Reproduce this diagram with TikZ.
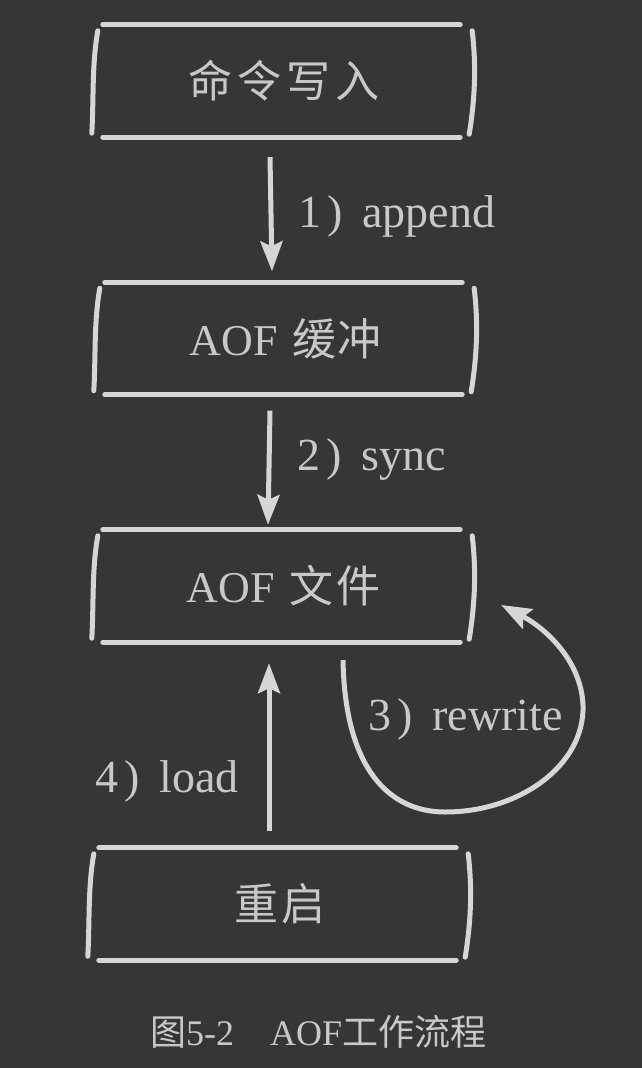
\documentclass[tikz,border=0pt]{standalone}
\usepackage{fontspec}
\setmainfont{Liberation Serif}
\newfontfamily\cjk{Noto Sans CJK SC}
\usetikzlibrary{arrows.meta,calc}
\definecolor{bg}{RGB}{54,54,54}
\definecolor{ink}{RGB}{214,214,214}
\definecolor{txt}{RGB}{200,200,200}
\newcommand\skbox[1]{%
  \draw[skline] ([xshift=8pt]#1.north west) -- ([xshift=-13pt]#1.north east);
  \draw[skline] ([xshift=8pt]#1.south west) -- ([xshift=-13pt]#1.south east);
  \draw[skline] ([xshift=3pt,yshift=-6pt]#1.north west) .. controls ([xshift=-3pt,yshift=-40pt]#1.north west) and ([xshift=-1pt,yshift=40pt]#1.south west) .. ([xshift=-3pt,yshift=4pt]#1.south west);
  \draw[skline] ([xshift=-1pt,yshift=-6pt]#1.north east) .. controls ([xshift=3pt,yshift=-40pt]#1.north east) and ([xshift=2pt,yshift=40pt]#1.south east) .. ([xshift=-4pt,yshift=3pt]#1.south east);
}
\begin{document}
\begin{tikzpicture}[x=1pt,y=-1pt,
  boxnode/.style={minimum width=378pt,minimum height=112pt,inner sep=0pt,text=txt,font=\fontsize{44}{50}\selectfont},
  skline/.style={draw=ink,line width=5pt,line cap=round},
  arr/.style={draw=ink,line width=5pt,-{Stealth[length=30pt,width=22pt,inset=5pt]}},
  lbl/.style={text=txt,font=\fontsize{46}{50}\selectfont,anchor=base west,inner sep=0pt}]
\fill[bg] (0,0) rectangle (642,1068);
\useasboundingbox (0,0) rectangle (642,1068);
\node[boxnode] (b1) at (284,81) {\cjk 命\hspace{5pt}令\hspace{5pt}写\hspace{5pt}入};
\node[boxnode] (b2) at (286,338.5) {AOF\hspace{14pt}{\cjk 缓\hspace{2pt}冲}};
\node[boxnode] (b3) at (284,586) {AOF\hspace{14pt}{\cjk 文\hspace{4pt}件}};
\node[boxnode] (b4) at (280,904) {\cjk 重\hspace{4pt}启};
\skbox{b1}
\skbox{b2}
\skbox{b3}
\skbox{b4}
\draw[arr] ([xshift=-14pt,yshift=-20pt]b1.south) -- ([xshift=-14pt,yshift=11pt]b2.north);
\draw[arr] ([xshift=-16pt,yshift=-16pt]b2.south) -- ([xshift=-16pt,yshift=5pt]b3.north);
\draw[arr] ([xshift=-11pt,yshift=17pt]b4.north) -- ([xshift=-15pt,yshift=-21pt]b3.south);
\draw[arr] ([xshift=59pt,yshift=-18pt]b3.south) .. controls (345,770) and (390,812) .. (445,812)
  .. controls (520,812) and (585,765) .. (583,705)
  .. controls (581,660) and (545,628) .. ([xshift=28pt,yshift=-19pt]b3.east);
\node[lbl] (l1) at (298,227) {1\hspace{6pt})\hspace{20pt}append};
\node[lbl] (l2) at (297,470) {2\hspace{6pt})\hspace{20pt}sync};
\node[lbl] (l3) at (368,730) {3\hspace{6pt})\hspace{20pt}rewrite};
\node[lbl] (l4) at (95,792) {4\hspace{6pt})\hspace{20pt}load};
\node[lbl,font=\fontsize{36}{40}\selectfont] (cap) at (150,1045) {{\cjk 图}5-2\hspace{36pt}AOF{\cjk 工作流程}};
\end{tikzpicture}
\end{document}
